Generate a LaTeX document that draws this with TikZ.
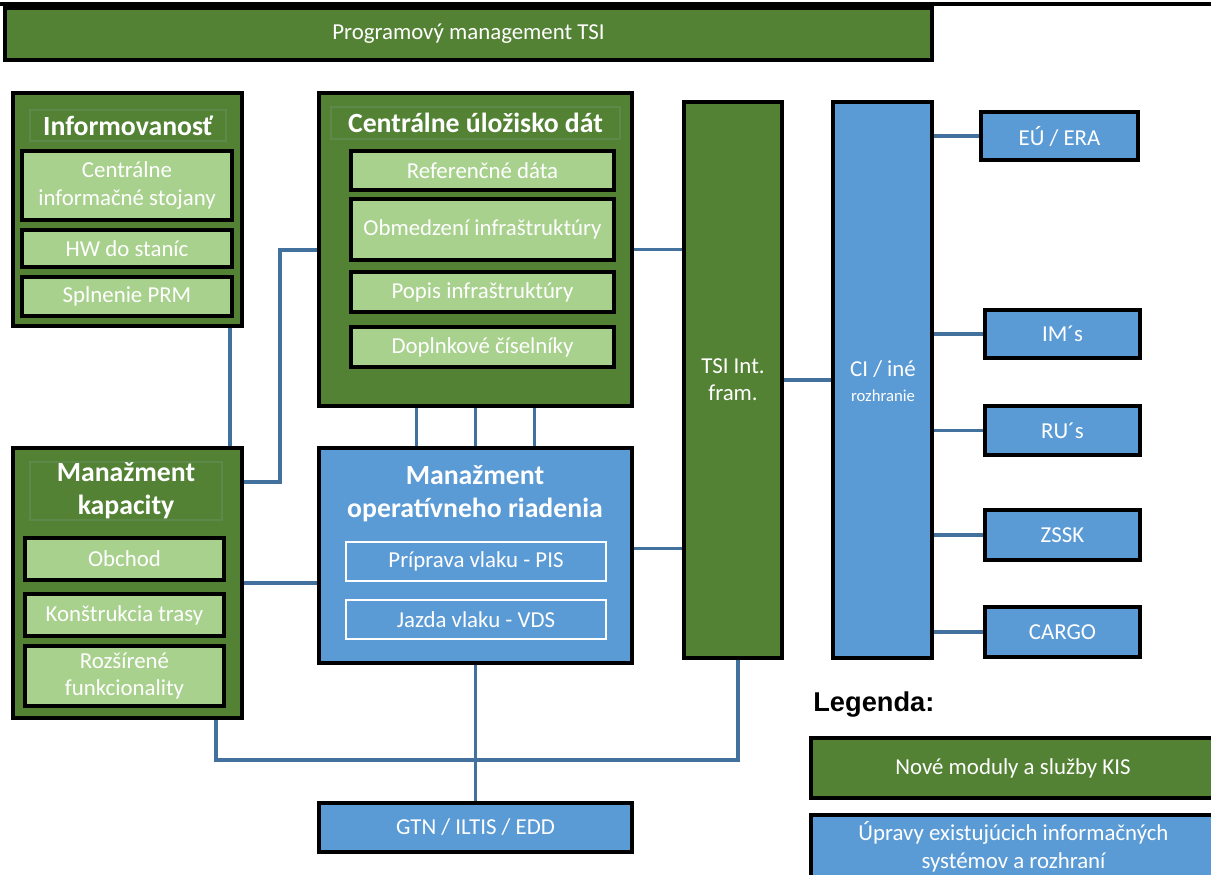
\documentclass[tikz,border=0pt]{standalone}
\usepackage{fontspec}
\setmainfont{Carlito}
\newfontfamily\legfont{Liberation Sans}
\usepackage{xcolor}
\usetikzlibrary{backgrounds}
\definecolor{tmzel}{RGB}{84,130,53}
\definecolor{svzel}{RGB}{169,209,142}
\definecolor{modra}{RGB}{91,155,213}
\definecolor{spoj}{RGB}{65,113,156}
\definecolor{okraj}{RGB}{93,137,75}
% box from (x1,y1) to (x2,y2), in pixels of the page
\newcommand\blok[7][]{%
  \node[#1, minimum width={(#5-#3)*0.02cm}, minimum height={(#6-#4)*0.02cm}]
    (#2) at ({(#3+#5)/2},{(#4+#6)/2}) {#7};}

\begin{document}
\begin{tikzpicture}[x=0.02cm, y=-0.02cm,
  box/.style={draw=black, line width=2pt, inner sep=0pt, outer sep=0pt,
    text=white, align=center, font=\fontsize{13}{15.5}\selectfont},
  novy/.style={box, fill=tmzel},
  sub/.style={box, fill=svzel},
  upr/.style={box, fill=modra},
  vnut/.style={box, fill=modra, draw=white, line width=0.9pt},
  nadpis/.style={inner sep=0pt, outer sep=0pt, text=white, align=center,
    font=\bfseries\fontsize{15.8}{19}\selectfont},
  pas/.style={nadpis, draw=okraj, line width=0.6pt},
  link/.style={draw=spoj, line width=1.8pt}]
  \useasboundingbox (0,0) rectangle (1211,875);
  \clip (0,0) rectangle (1211,875);
  \draw[line width=2.2pt] (0,4) -- (1211,4);

  \blok[novy]{prog}{5}{8}{932}{60}{Programový management TSI}

  % informovanost
  \blok[novy]{info}{13}{93}{242}{326}{}
  \blok[pas]{infoT}{30}{110}{226}{141}{Informovanosť}
  \blok[sub]{stoj}{22}{151}{232}{220}{Centrálne\\informačné stojany}
  \blok[sub]{hw}{22}{230}{232}{267}{HW do staníc}
  \blok[sub]{prm}{22}{277}{232}{316}{Splnenie PRM}

  % centralne ulozisko
  \blok[novy]{uloz}{319}{93}{632}{406}{}
  \blok[pas]{ulozT}{331}{107}{620}{139}{Centrálne úložisko dát}
  \blok[sub]{ref}{351}{151}{614}{190}{Referenčné dáta}
  \blok[sub]{obm}{351}{199}{614}{260}{Obmedzení infraštruktúry}
  \blok[sub]{pop}{351}{272}{614}{312}{Popis infraštruktúry}
  \blok[sub]{cis}{351}{327}{614}{367}{Doplnkové číselníky}

  % manazment kapacity
  \blok[novy]{kap}{13}{448}{242}{718}{}
  \blok[pas]{kapT}{30}{462}{222}{520}{Manažment\\kapacity}
  \blok[sub]{obch}{25}{538}{224}{580}{Obchod}
  \blok[sub]{tras}{25}{594}{224}{636}{Konštrukcia trasy}
  \blok[sub]{rozs}{25}{646}{224}{706}{Rozšírené\\funkcionality}

  % operativne riadenie
  \blok[upr]{man}{319}{448}{632}{663}{}
  \node[nadpis] (manT) at (475,494) {Manažment\\operatívneho riadenia};
  \blok[vnut]{pis}{346}{542}{606}{581}{Príprava vlaku - PIS}
  \blok[vnut]{vds}{346}{600}{606}{639}{Jazda vlaku - VDS}

  \blok[upr]{gtn}{319}{803}{632}{852}{GTN / ILTIS / EDD}

  \blok[novy]{tsi}{684}{102}{782}{658}{}
  \node[box, draw=none] (tsiT) at (733,380) {TSI Int.\\fram.};
  \blok[upr]{ci}{833}{102}{932}{658}{}
  \node[box, draw=none] (ciT) at (883,381)
    {CI / iné\\[-1pt]{\fontsize{9.5}{11}\selectfont rozhranie}};

  \blok[upr]{era}{981}{112}{1138}{160}{EÚ / ERA}
  \blok[upr]{im}{985}{310}{1140}{358}{IM´s}
  \blok[upr]{ru}{985}{406}{1140}{455}{RU´s}
  \blok[upr]{zssk}{985}{510}{1140}{560}{ZSSK}
  \blok[upr]{cargo}{985}{607}{1140}{657}{CARGO}

  % legenda
  \node[anchor=west, inner sep=0pt, font=\legfont\bfseries\fontsize{15.5}{18}\selectfont]
    (leg) at (813,705) {Legenda:};
  \blok[novy]{legN}{811}{738}{1215}{798}{Nové moduly a služby KIS}
  \node[box, fill=modra, anchor=north west, minimum width=8.1cm, minimum height=1.4cm,
    text depth=0.2cm] (legU) at (811,815) {Úpravy existujúcich informačných\\systémov a rozhraní};

  \begin{scope}[on background layer]
    \draw[link] ([xshift=-0.24cm]info.south east) -- ([xshift=-0.24cm]kap.north east);
    \draw[link] ([yshift=-0.68cm]kap.north east) -- ++(38,0) |- ([yshift=-3.14cm]uloz.north west);
    \foreach \dx in {-1.18,0,1.18}
      \draw[link] ([xshift=\dx cm]uloz.south) -- ([xshift=\dx cm]man.north);
    \draw[link] (uloz.east) -- (tsi.west |- uloz.east);
    \draw[link] ([yshift=0.14cm]man.east) -- ([yshift=0.14cm]tsi.west |- man.east);
    \draw[link] (kap.east) -- (man.west |- kap.east);
    \draw[link] (tsi.east) -- (ci.west);
    \draw[link] ([xshift=-0.52cm]kap.south east) -- ++(0,42) -| ([xshift=0.1cm]tsi.south);
    \draw[link] (man.south) -- (gtn.north);
    \foreach \b in {era,im,ru,zssk,cargo}
      \draw[link] (ci.east |- \b.west) -- (\b.west);
  \end{scope}
\end{tikzpicture}
\end{document}
